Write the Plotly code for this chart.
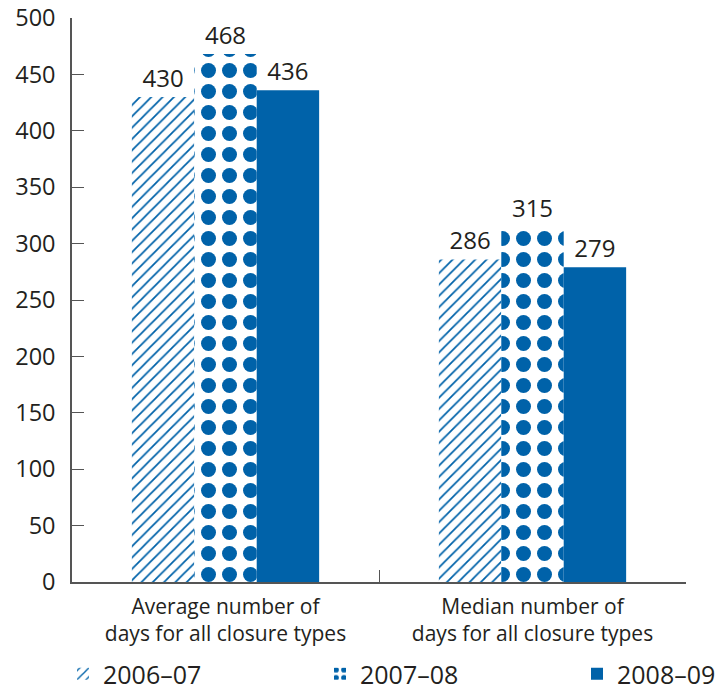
import plotly.graph_objects as go

categories = ["Average number of<br>days for all closure types",
              "Median number of<br>days for all closure types"]
series_names = ["2006–07", "2007–08", "2008–09"]
values_0607 = [430, 286]
values_0708 = [468, 315]
values_0809 = [436, 279]
y_ticks = [0, 50, 100, 150, 200, 250, 300, 350, 400, 450, 500]

BLUE = "#0062A9"
TXT = "#231F20"
AX = "#555555"
FONT = "Open Sans"
W, H = 717, 690
ML, MR, MT, MB = 72, 31, 18, 108
PW, PH = W - ML - MR, H - MT - MB

fig = go.Figure()
fig.add_trace(go.Bar(
    name=series_names[0], x=categories, y=values_0607, legend="legend",
    marker=dict(color="white", line=dict(width=0),
                pattern=dict(shape="/", fgcolor=BLUE, bgcolor="white", size=8,
                             solidity=0.22, fgopacity=1)),
    text=values_0607, textposition="outside", cliponaxis=False,
    textfont=dict(size=24, color=TXT, family=FONT)))
fig.add_trace(go.Bar(
    name=series_names[1], x=categories, y=values_0708, legend="legend2",
    marker=dict(color="white", line=dict(width=0),
                pattern=dict(shape=".", fgcolor=BLUE, bgcolor="white", size=21,
                             solidity=0.4, fgopacity=1)),
    text=values_0708, textposition="outside", cliponaxis=False,
    textfont=dict(size=24, color=TXT, family=FONT)))
fig.add_trace(go.Bar(
    name=series_names[2], x=categories, y=values_0809, legend="legend3",
    marker=dict(color=BLUE, line=dict(width=0)),
    text=values_0809, textposition="outside", cliponaxis=False,
    textfont=dict(size=24, color=TXT, family=FONT)))

def leg(px):
    return dict(orientation="h", xref="paper", yref="paper",
                x=(px - ML) / PW, xanchor="left",
                y=(H - MB - 674) / PH, yanchor="middle",
                bgcolor="rgba(0,0,0,0)",
                font=dict(size=25, color=TXT, family=FONT))

fig.update_layout(
    width=W, height=H,
    margin=dict(l=ML, r=MR, t=MT, b=MB, autoexpand=False),
    paper_bgcolor="white", plot_bgcolor="white",
    barmode="group", bargap=0.39, bargroupgap=0,
    font=dict(family=FONT, color=TXT),
    showlegend=True,
    legend=leg(63), legend2=leg(320), legend3=leg(577),
    xaxis=dict(showline=True, linecolor=AX, linewidth=1.5,
               ticks="inside", tickson="boundaries", ticklen=12, tickcolor=AX,
               tickfont=dict(size=21, color=TXT, family=FONT), showgrid=False,
               ticklabelstandoff=5, automargin=False),
    yaxis=dict(range=[0, 500], tickvals=y_ticks, showline=True, linecolor=AX, linewidth=1.5,
               ticks="inside", ticklen=12, tickcolor=AX, showgrid=False, zeroline=False,
               tickfont=dict(size=23.5, color=TXT, family=FONT), ticklabelstandoff=10,
               ticklabeloverflow="allow", automargin=False),
)
fig.write_html("out.html")
